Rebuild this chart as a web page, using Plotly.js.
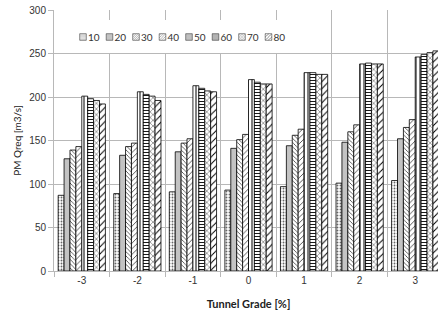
<!DOCTYPE html>
<html>
<head>
<meta charset="utf-8">
<script src="https://cdn.plot.ly/plotly-3.0.1.min.js"></script>
<style>
html, body { margin: 0; padding: 0; overflow: hidden; background: #fff; }
#chart { width: 443px; height: 312px; }
</style>
</head>
<body>
<div id="chart"></div>
<script>
const grades = ['-3', '-2', '-1', '0', '1', '2', '3'];
const seriesNames = ['10', '20', '30', '40', '50', '60', '70', '80'];
const s10 = [87, 89, 91, 93, 97, 101, 104];
const s20 = [129, 133, 137, 141, 144, 148, 152];
const s30 = [139, 143, 147, 151, 156, 160, 165];
const s40 = [143, 147, 152, 157, 163, 168, 174];
const s50 = [201, 206, 213, 220, 228, 238, 246];
const s60 = [198, 203, 210, 217, 228, 239, 249];
const s70 = [196, 201, 207, 215, 226, 238, 251];
const s80 = [192, 196, 206, 215, 226, 238, 253];
const seriesValues = [s10, s20, s30, s40, s50, s60, s70, s80];

const patterns = [
  {shape: '.', size: 3, solidity: 0.3, fgcolor: '#666', bgcolor: '#fff'},
  {shape: '.', size: 2, solidity: 0.5, fgcolor: '#999', bgcolor: '#e4e4e4'},
  {shape: '\\', size: 3, solidity: 0.25, fgcolor: '#333', bgcolor: '#fff'},
  {shape: '/', size: 4, solidity: 0.2, fgcolor: '#333', bgcolor: '#fff'},
  {shape: '|', size: 4, solidity: 0.25, fgcolor: '#000', bgcolor: '#fff'},
  {shape: '-', size: 3, solidity: 0.3, fgcolor: '#000', bgcolor: '#fff'},
  {shape: 'x', size: 4, solidity: 0.2, fgcolor: '#222', bgcolor: '#fff'},
  {shape: '/', size: 5, solidity: 0.2, fgcolor: '#000', bgcolor: '#fff'}
];

const traces = seriesNames.map((n, i) => ({
  type: 'bar',
  name: n,
  x: grades,
  y: seriesValues[i],
  marker: {
    color: '#fff',
    line: {color: '#000', width: 0.8},
    pattern: patterns[i]
  },
  hoverinfo: 'none'
}));

const gridc = '#b8b8b8';
const layout = {
  width: 443, height: 312,
  margin: {l: 54, r: 0, t: 10, b: 41},
  paper_bgcolor: '#fff', plot_bgcolor: '#fff',
  barmode: 'group', bargap: 0.15, bargroupgap: 0,
  font: {family: 'Liberation Sans, Arial, sans-serif', size: 10, color: '#333'},
  xaxis: {
    type: 'category', tickson: 'boundaries',
    showgrid: true, gridcolor: gridc, gridwidth: 1,
    showline: true, linecolor: gridc, linewidth: 1,
    ticks: 'outside', ticklen: 5, tickcolor: gridc,
    tickfont: {family: 'Liberation Sans, Arial, sans-serif', size: 10, color: '#333'},
    title: {text: 'Tunnel Grade [%]', standoff: 15,
      font: {family: 'Lato, sans-serif', size: 11, color: '#222', weight: 'bold'}}
  },
  yaxis: {
    range: [0, 300], dtick: 50, tick0: 0,
    showgrid: true, gridcolor: gridc, gridwidth: 1, zeroline: false,
    showline: true, linecolor: gridc, linewidth: 1,
    ticks: 'outside', ticklen: 5, tickcolor: gridc,
    tickfont: {family: 'Liberation Sans, Arial, sans-serif', size: 10, color: '#333'},
    title: {text: 'PM Qreq [m3/s]', standoff: 5,
      font: {family: 'Lato, sans-serif', size: 10, color: '#222'}}
  },
  showlegend: true,
  legend: {
    orientation: 'h', x: (63 - 54) / 389, xanchor: 'left',
    y: (271 - 20) / 261, yanchor: 'top',
    bgcolor: 'rgba(0,0,0,0)', borderwidth: 0,
    font: {family: 'Lato, sans-serif', size: 10, color: '#333'},
    traceorder: 'normal'
  }
};

Plotly.newPlot('chart', traces, layout, {staticPlot: true, displayModeBar: false}).then(function () {
  const leg = document.querySelector('.legend');
  if (!leg) return;
  const bg = leg.querySelector('rect.bg');
  if (bg) {
    bg.setAttribute('x', 12); bg.setAttribute('y', 0);
    bg.setAttribute('width', 215); bg.setAttribute('height', 33);
    bg.style.fill = '#ffffff'; bg.style.fillOpacity = 1;
  }
  const items = leg.querySelectorAll('g.traces');
  items.forEach(function (g, i) {
    g.setAttribute('transform', 'translate(' + (i * 26.5) + ',17)');
    const t = g.querySelector('text.legendtext');
    if (t) {
      t.setAttribute('x', 25);
      t.querySelectorAll('tspan').forEach(function (ts) { if (ts.hasAttribute('x')) ts.setAttribute('x', 25); });
    }
    g.querySelectorAll('.legendpoints path').forEach(function (p) {
      const tr = p.getAttribute('transform') || '';
      p.setAttribute('transform', tr + ' scale(0.55)');
    });
  });
});
</script>
</body>
</html>
